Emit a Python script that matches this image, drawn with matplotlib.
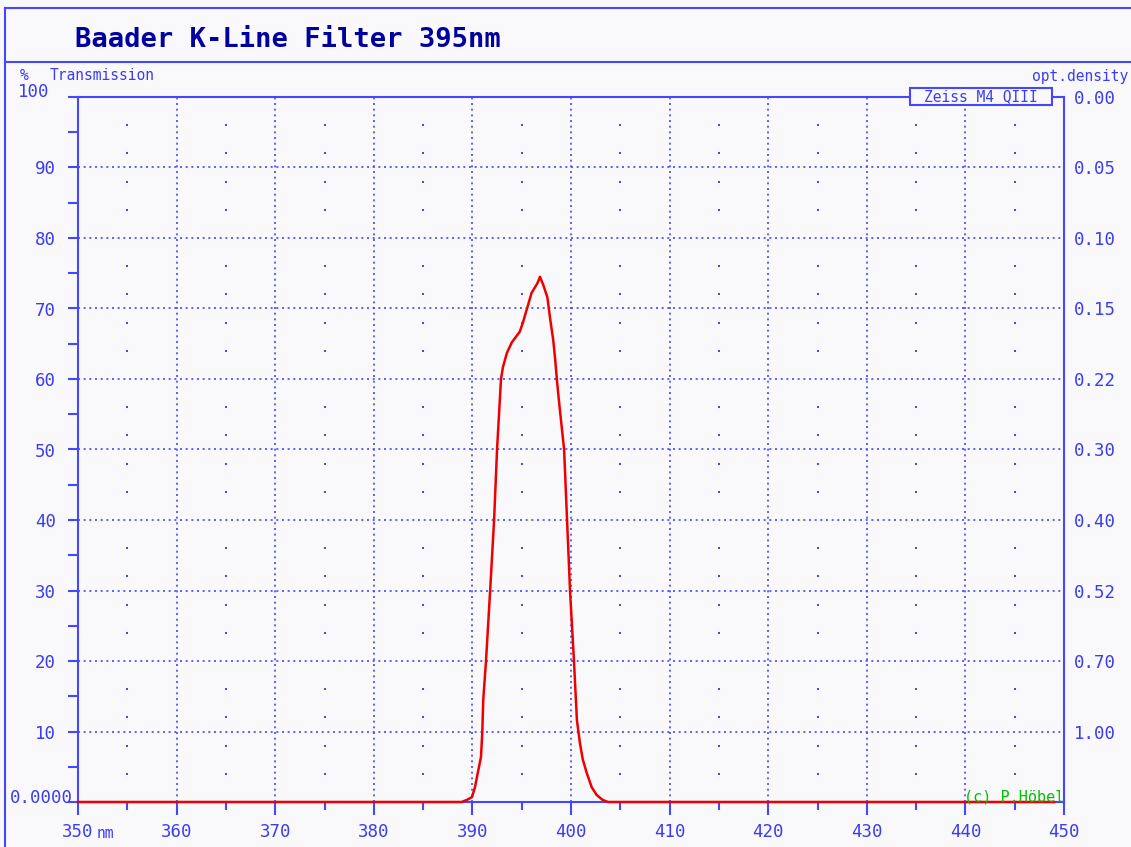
import numpy as np
import matplotlib
matplotlib.use("Agg")
import matplotlib.pyplot as plt
from matplotlib.lines import Line2D
from matplotlib.patches import Rectangle

# wavelength (nm) and transmission (%)
wavelength = [350, 388.0, 388.9, 389.45, 389.96, 390.26, 390.57, 390.87, 391.0, 391.1,
              391.38, 391.8, 392.2, 392.5, 392.9, 393.1, 393.5, 394.0, 394.8, 395.1,
              395.5, 396.0, 396.6, 396.85, 397.2, 397.6, 397.9, 398.2, 398.4, 398.6,
              398.8, 399.3, 399.6, 399.9, 400.3, 400.6, 400.9, 401.2, 401.6, 402.1,
              402.6, 403.2, 403.75, 449]
transmission = [0, 0, 0, 0.3, 0.7, 2.1, 4.3, 6.4, 9.8, 14.5,
                20, 30, 40, 50, 60, 61.7, 63.7, 65.2, 66.7, 67.9,
                69.8, 72.2, 73.6, 74.5, 73.3, 71.6, 68.4, 65.5, 62.7, 59.4,
                56.6, 50, 40, 30, 20, 11.6, 8.4, 6.0, 4.1, 2.1,
                1.0, 0.3, 0, 0]

x_ticks = [350, 360, 370, 380, 390, 400, 410, 420, 430, 440, 450]
y_ticks = [10, 20, 30, 40, 50, 60, 70, 80, 90]
od_ticks = [10, 20, 30, 40, 50, 60, 70, 80, 90, 100]
od_labels = ['1.00', '0.70', '0.52', '0.40', '0.30', '0.22', '0.15', '0.10', '0.05', '0.00']

title = 'Baader K-Line Filter 395nm'
legend_text = 'Zeiss M4 QIII'

W, H = 1131, 847
BLUE = '#4646ff'
TXT = '#3c3cf0'
BG = '#f9f9fb'
MONO = 'DejaVu Sans Mono'

fig = plt.figure(figsize=(W / 100, H / 100), dpi=100, facecolor=BG)

def fx(px):
    return px / W

def fy(py):
    return 1 - py / H

# outer frame and title separator
fig.add_artist(Line2D([fx(5), 1], [fy(8), fy(8)], color=BLUE, lw=1.5))
fig.add_artist(Line2D([fx(5), fx(5)], [fy(8), 0], color=BLUE, lw=1.5))
fig.add_artist(Line2D([fx(5), 1], [fy(61.5), fy(61.5)], color=BLUE, lw=1.5))
fig.text(fx(75), fy(40), title, family=MONO, weight='bold', fontsize=19.5,
         color='#0000a0', va='center', ha='left')

ax = fig.add_axes([fx(78), 1 - 802 / H, (1064 - 78) / W, (802 - 97) / H])
ax.set_facecolor(BG)
ax.set_xlim(350, 450)
ax.set_ylim(0, 100)

for s in ax.spines.values():
    s.set_color(BLUE)
    s.set_linewidth(1.5)

ax.set_xticks(x_ticks)
ax.set_xticks(np.arange(355, 450, 10), minor=True)
ax.set_xticklabels([str(v) for v in x_ticks], family=MONO, fontsize=12.5, color=TXT)
ax.set_yticks(y_ticks + [0, 100])
ax.set_yticklabels([str(v) for v in y_ticks] + ['', ''], family=MONO, fontsize=12.5, color=TXT)
ax.set_yticks(np.arange(5, 100, 10), minor=True)
ax.tick_params(axis='x', which='major', length=9, width=1.5, color=BLUE, pad=6, direction='out')
ax.tick_params(axis='x', which='minor', length=5.5, width=1.5, color=BLUE, direction='out')
ax.tick_params(axis='y', which='both', length=7, width=1.5, color=BLUE, pad=9, direction='out')

# dotted grid
ax.grid(True, which='major', color=BLUE, linestyle=(0, (1.2, 2.2)), linewidth=1.2)
gx, gy = np.meshgrid(np.arange(355, 450, 10), [v for v in range(4, 100, 4) if v % 10 != 0])
ax.plot(gx.ravel(), gy.ravel(), ls='none', marker='s', ms=1.8, mew=0, color=BLUE)

ax.plot(wavelength, transmission, color='#ee0000', lw=1.8, zorder=5, clip_on=False)

# right axis: optical density
ax2 = ax.twinx()
ax2.set_ylim(0, 100)
ax2.set_yticks(od_ticks)
ax2.set_yticklabels(od_labels, family=MONO, fontsize=12.5, color=TXT)
ax2.tick_params(axis='y', length=0, pad=7)
for s in ax2.spines.values():
    s.set_visible(False)

# special labels
ax.text(-0.029, 100.7, '100', transform=ax.get_yaxis_transform(), family=MONO,
        fontsize=12.5, color=TXT, ha='right', va='center')
ax.text(-0.005, 0.6, '0.0000', transform=ax.get_yaxis_transform(), family=MONO,
        fontsize=12.5, color=TXT, ha='right', va='center')
ax.annotate('nm', xy=(350, 0), xytext=(13.5, -22.5), textcoords='offset points',
            family=MONO, fontsize=10.5, color=TXT, ha='left', va='center')

fig.text(fx(20), fy(76), '%', family=MONO, fontsize=10.5, color=TXT, va='center')
fig.text(fx(50), fy(76), 'Transmission', family=MONO, fontsize=10.5, color=TXT, va='center')
fig.text(fx(1128), fy(76), 'opt.density', family=MONO, fontsize=10.5, color=TXT,
         va='center', ha='right')

# instrument label box on the top spine
fig.add_artist(Rectangle((fx(910), fy(105)), fx(142), 17 / H, facecolor=BG,
                         edgecolor=BLUE, lw=1.5, zorder=10))
fig.text(fx(981), fy(96.5), legend_text, family=MONO, fontsize=10.5, color=TXT,
         ha='center', va='center', zorder=11)

fig.text(fx(1064), fy(797), '(c) P.Höbel', family=MONO, fontsize=11, color='#00c000',
         ha='right', va='center', zorder=12)

fig.savefig('out.png', dpi=100, facecolor=BG)
